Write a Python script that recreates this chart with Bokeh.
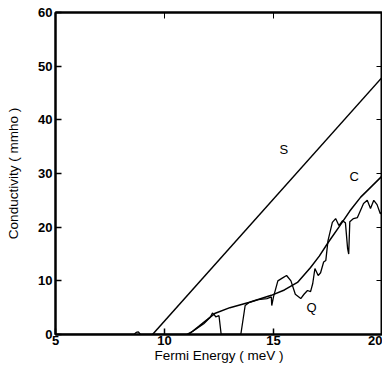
from bokeh.plotting import figure
from bokeh.models import Range1d, LinearAxis, FixedTicker, Label, CustomJSTickFormatter
from bokeh.embed import file_html
from bokeh.resources import INLINE

# --- data ---
x_ticks = [5, 10, 15, 20]
y_ticks = [0, 10, 20, 30, 40, 50, 60]

s_x = [9.45, 20.0]
s_y = [0.0, 48.0]

c_x = [11.1, 11.6, 12.3, 13.0, 13.9, 14.9, 15.5, 16.1, 16.7, 17.1, 17.5,
       18.0, 18.5, 19.0, 19.5, 20.0]
c_y = [0.0, 1.6, 3.9, 5.0, 6.0, 7.3, 8.3, 9.7, 12.5, 14.6, 17.1,
       20.0, 23.0, 25.6, 27.6, 29.6]

q_x = [5.0, 8.6, 8.7, 8.8, 8.9, 11.0, 11.3, 11.8, 12.1, 12.2, 12.3, 12.35,
       12.5, 12.6, 13.5, 13.7, 13.9, 14.3, 14.7, 14.9, 14.92, 15.0, 15.1,
       15.2, 15.4, 15.6, 15.8, 16.0, 16.25, 16.4, 16.56, 16.7, 16.8, 16.9,
       17.05, 17.16, 17.3, 17.4, 17.5, 17.7, 17.85, 18.0, 18.17, 18.3, 18.4,
       18.45, 18.5, 18.67, 18.85, 19.13, 19.3, 19.45, 19.6, 19.75, 19.9, 20.0]
q_y = [0.0, 0.0, 0.4, 0.5, 0.0, 0.0, 0.6, 2.0, 3.2, 4.0, 3.6, 3.3,
       3.5, 0.0, 0.0, 5.4, 6.0, 6.5, 6.7, 7.0, 5.4, 7.0, 8.5,
       10.0, 10.5, 11.0, 10.0, 7.5, 6.7, 7.5, 8.2, 8.0, 9.5, 12.3,
       11.0, 11.5, 13.5, 13.8, 17.5, 20.9, 21.6, 20.3, 21.2, 20.8, 16.0,
       15.0, 21.0, 21.6, 21.8, 24.4, 25.0, 23.5, 25.0, 24.2, 22.5, 23.0]

labels = [("S", 15.47, 34.4), ("C", 18.7, 29.5), ("Q", 16.75, 5.0)]

FONT = "Liberation Sans"

p = figure(output_backend="svg", toolbar_location=None,
           frame_width=327, frame_height=322,
           x_range=Range1d(5, 20), y_range=Range1d(0, 60),
           min_border_left=55, min_border_top=12, min_border_right=0,
           min_border_bottom=0)
p.background_fill_color = "white"
p.border_fill_color = "white"
p.outline_line_color = "black"
p.outline_line_width = 2
p.grid.visible = False

for ax in (p.xaxis[0], p.yaxis[0]):
    ax.axis_line_width = 2
    ax.major_tick_in = 6
    ax.major_tick_out = 0
    ax.minor_tick_line_color = None
    ax.major_tick_line_width = 1.5
    ax.major_label_text_font = FONT
    ax.major_label_text_font_style = "bold"
    ax.major_label_text_font_size = "13px"
    ax.major_label_text_color = "black"
    ax.axis_label_text_font = FONT
    ax.axis_label_text_font_style = "normal"
    ax.axis_label_text_font_size = "13.5px"
    ax.axis_label_text_color = "black"

p.xaxis[0].ticker = FixedTicker(ticks=x_ticks)
p.yaxis[0].ticker = FixedTicker(ticks=y_ticks)
p.xaxis[0].axis_label = "Fermi Energy ( meV )"
p.yaxis[0].axis_label = "Conductivity ( mmho )"
p.xaxis[0].major_label_standoff = 1
p.yaxis[0].major_label_standoff = 3
p.xaxis[0].axis_label_standoff = 0
p.yaxis[0].axis_label_standoff = 14

blank = CustomJSTickFormatter(code="return ''")
right = LinearAxis(ticker=FixedTicker(ticks=y_ticks[1:-1]), formatter=blank,
                   major_tick_in=6, major_tick_out=0,
                   minor_tick_line_color=None, major_label_text_font_size="1px",
                   axis_line_width=2, major_label_standoff=0)
top = LinearAxis(ticker=FixedTicker(ticks=x_ticks[1:-1]), formatter=blank,
                 major_tick_in=6, major_tick_out=0,
                 minor_tick_line_color=None, major_label_text_font_size="1px",
                 axis_line_width=2, major_label_standoff=0)
p.add_layout(right, "right")
p.add_layout(top, "above")

p.line(s_x, s_y, line_color="black", line_width=1.5)
p.line(c_x, c_y, line_color="black", line_width=1.5)
p.line(q_x, q_y, line_color="black", line_width=1.3)

for t, x, y in labels:
    p.add_layout(Label(x=x, y=y, text=t, text_font=FONT,
                       text_font_size="13px", text_align="center",
                       text_baseline="middle", text_color="black"))

open("out.html", "w").write(file_html(p, INLINE))
